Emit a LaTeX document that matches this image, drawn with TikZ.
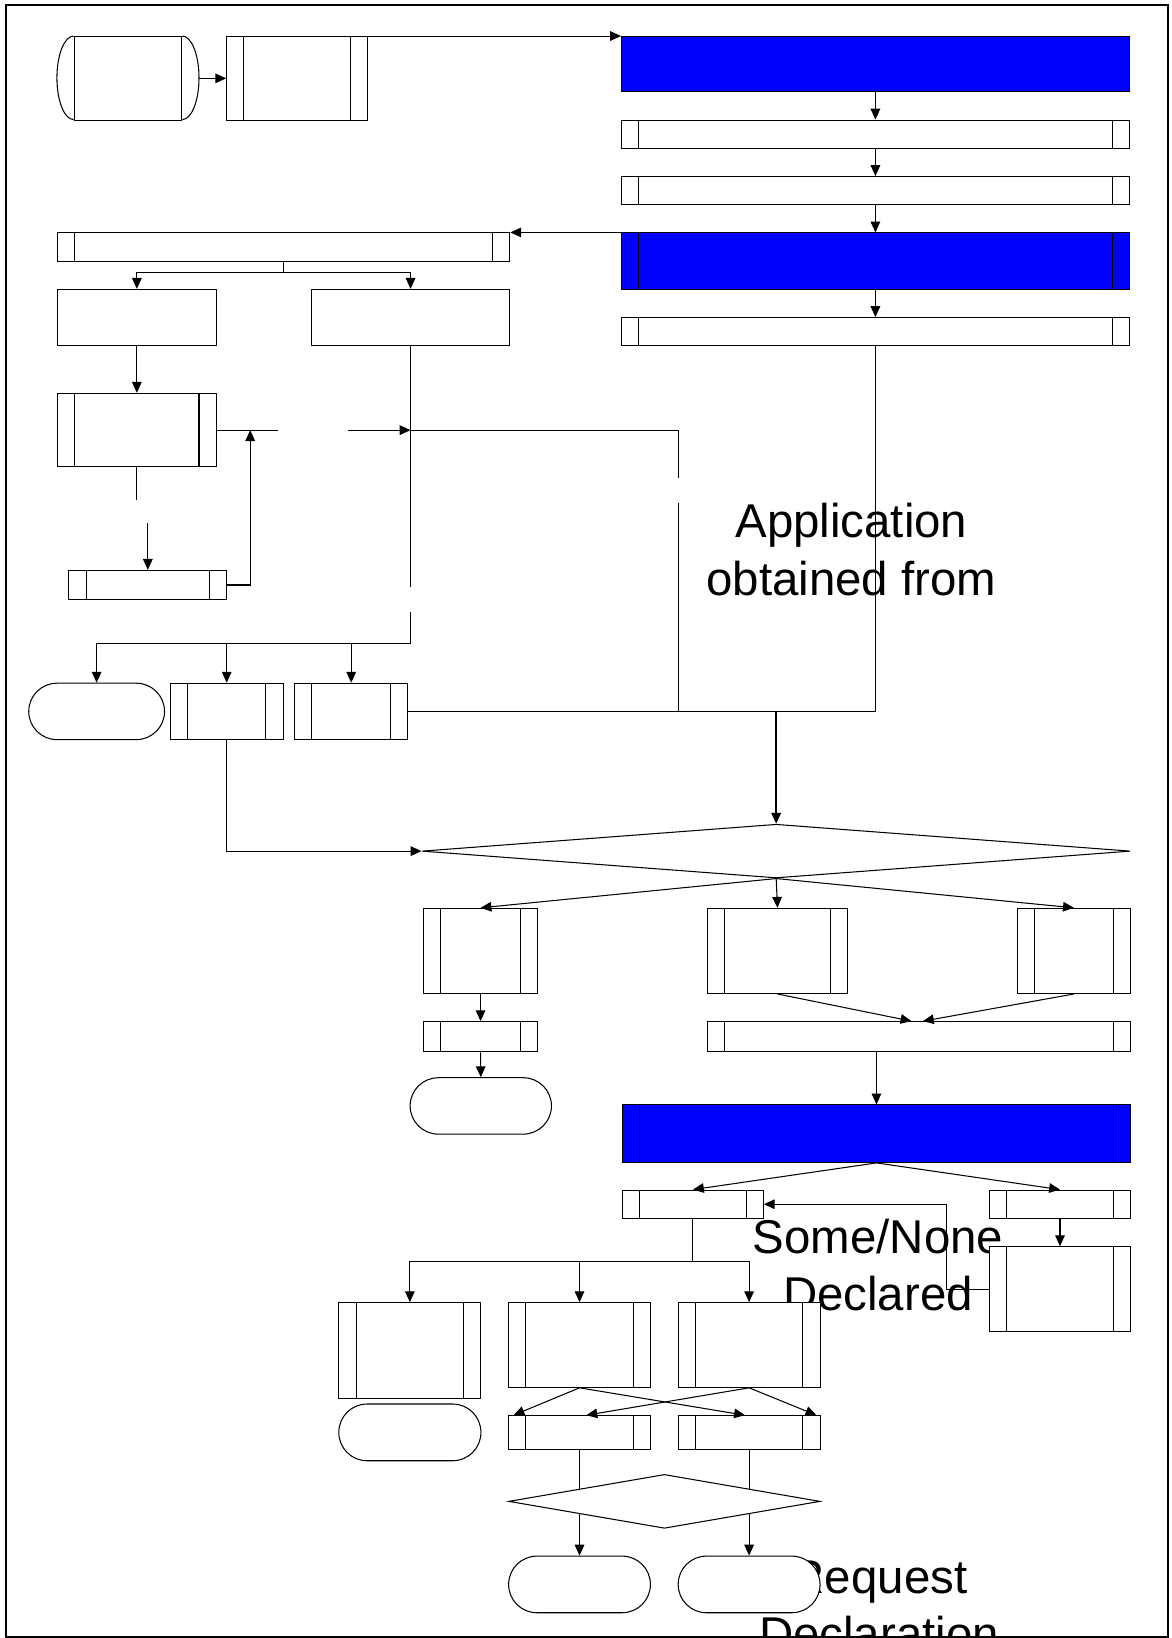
\documentclass[tikz,border=0pt]{standalone}
\usepackage{fontspec}
\setmainfont{Liberation Sans}
\usetikzlibrary{calc,arrows.meta,shapes.geometric}
\definecolor{procBlue}{RGB}{0,0,255}
\tikzset{
  conn/.style={draw=black,line width=0.5pt},
  flow/.style={conn,-{Triangle[length=5.2pt,width=4.6pt]}},
  pbox/.style={rectangle,draw=black,fill=white,line width=0.5pt,inner sep=0pt},
  proc/.style={pbox,path picture={
    \draw[line width=0.5pt] ([xshift=8.25pt]path picture bounding box.north west) -- ([xshift=8.25pt]path picture bounding box.south west);
    \draw[line width=0.5pt] ([xshift=-8.25pt]path picture bounding box.north east) -- ([xshift=-8.25pt]path picture bounding box.south east);}},
  term/.style={pbox,rounded corners=13.5pt},
  decide/.style={diamond,draw=black,fill=white,line width=0.5pt,inner sep=0pt},
  sz/.style 2 args={minimum width=#1,minimum height=#2},
  lbl/.style={font=\fontsize{22.7}{27.3}\selectfont,align=center,inner sep=0pt,anchor=base}
}
\begin{document}
\begin{tikzpicture}[x=0.5pt,y=-0.5pt]
\useasboundingbox (0,0) rectangle (1121,1568);
\clip (0,0) rectangle (1121,1568);
\draw[line width=0.8pt] (5.5,4.5) rectangle (1118,1567);

\node[lbl] (txtApp) at (815,569.6) {Application\\obtained from};
\node[lbl] (txtSome) at (840.5,1254.7) {Some/None\\Declared};
\node[lbl] (txtReq) at (841.5,1580) {Request\\Declaration};

\node[pbox,sz={51.5pt}{40pt}] (disk) at (122.5,75) {};
\draw[conn] (disk.north west) arc[start angle=90,end angle=270,x radius=8pt,y radius=20pt];
\draw[conn] (disk.north east) arc[start angle=90,end angle=-90,x radius=8pt,y radius=20pt];
\node[proc,sz={67.5pt}{40pt}] (A1) at (284.5,75) {};
\node[pbox,fill=procBlue,sz={243pt}{26.5pt}] (Blue1) at (838,61.5) {};
\node[proc,sz={243pt}{13.5pt}] (R2) at (838,128.5) {};
\node[proc,sz={243pt}{13.5pt}] (R3) at (838,182.5) {};
\node[proc,fill=procBlue,sz={243pt}{27pt}] (Blue2) at (838,250) {};
\node[proc,sz={243pt}{13.5pt}] (R5) at (838,317.5) {};

\node[proc,sz={216.5pt}{13.5pt}] (L1) at (271.5,236.5) {};
\node[pbox,sz={76pt}{27pt}] (L2a) at (131,304) {};
\node[pbox,sz={94.5pt}{27pt}] (L2b) at (393,304) {};
\node[proc,sz={76pt}{35.25pt}] (L3) at (131,411.75) {};
\node[proc,sz={75.5pt}{14pt}] (L4) at (141.5,560) {};
\node[term,sz={65pt}{27pt}] (T1) at (92.5,681) {};
\node[proc,sz={54pt}{27pt}] (P1) at (217,681) {};
\node[proc,sz={54.2pt}{27pt}] (P2) at (336.2,681) {};

\node[decide,sz={339pt}{25.75pt}] (D1) at (743,814.75) {};
\node[proc,sz={54.5pt}{40.75pt}] (B1) at (460,910.25) {};
\node[proc,sz={67.3pt}{40.75pt}] (B2) at (744.3,910.25) {};
\node[proc,sz={54pt}{40.75pt}] (B3) at (1028,910.25) {};
\node[proc,sz={54.5pt}{14.5pt}] (B1b) at (460,992.5) {};
\node[term,sz={67.65pt}{27pt}] (T2) at (460.25,1058.65) {};
\node[proc,sz={202.5pt}{14.5pt}] (B4) at (879.5,992.5) {};
\node[proc,fill=procBlue,sz={243pt}{27.5pt}] (Blue3) at (839,1085.2) {};

\node[proc,sz={67.35pt}{13.5pt}] (C1) at (663.35,1152.75) {};
\node[proc,sz={67.3pt}{13.5pt}] (C2) at (1014.7,1152.75) {};
\node[proc,sz={67.3pt}{40.7pt}] (C3) at (1014.7,1234.1) {};
\node[proc,sz={68pt}{45.8pt}] (E1) at (392.35,1292.8) {};
\node[proc,sz={67.85pt}{40.5pt}] (E2) at (554.75,1287.5) {};
\node[proc,sz={67.9pt}{40.5pt}] (E3) at (717.1,1287.5) {};
\node[term,sz={68pt}{27.15pt}] (T3) at (392.35,1371.15) {};
\node[proc,sz={67.85pt}{16.1pt}] (F1) at (554.75,1371.3) {};
\node[proc,sz={67.9pt}{16.1pt}] (F2) at (717.1,1371.3) {};
\node[term,sz={67.85pt}{27.1pt}] (T4) at (554.75,1516.7) {};
\node[term,sz={67.9pt}{27.1pt}] (T5) at (717.1,1516.7) {};

\coordinate (apTop) at (649.5,411.75);
\coordinate (apBot) at (649.5,681);
\coordinate (fork) at (393,616);
\coordinate (merge) at (D1.north |- P2.east);

\draw[flow] ([xshift=8pt]disk.east) -- (A1.west);
\draw[flow] (A1.north east) -- (Blue1.north west);
\draw[flow] (Blue1.south) -- (R2.north);
\draw[flow] (R2.south) -- (R3.north);
\draw[flow] (R3.south) -- (Blue2.north);
\draw[flow] (Blue2.south) -- (R5.north);
\draw[flow] (Blue2.north west) -- (L1.north east);
\draw[conn] (L1.south) -- ++(0,10) coordinate (split);
\draw[flow] (split) -| (L2a.north);
\draw[flow] (split) -| (L2b.north);
\draw[flow] (L2a.south) -- (L3.north);
\draw[conn] (L3.east) -- ++(58.5,0);
\draw[flow] ($(L3.east)+(125.5,0)$) -- (L3.east -| L2b.south);
\draw[conn] (L3.south) -- ++(0,31);
\draw[flow] ([yshift=22.25pt]L4.north) -- (L4.north);
\draw[flow] (L4.east) -| ($(L3.east)+(32,0)$);
\draw[conn] (L3.east -| L2b.south) -- (apTop) -- ++(0,46);
\draw[conn] ($(apTop)+(0,69.5)$) -- (apBot) -- (merge);
\draw[conn] (L2b.south) -- ++(0,230.6);
\draw[conn] (fork) -- ++(0,-30);
\draw[flow] (fork) -| (T1.north);
\draw[flow] (fork) -| (P1.north);
\draw[flow] (fork) -| (P2.north);
\draw[conn] (R5.south) |- (merge);
\draw[conn] (P2.east) -- (merge);
\draw[flow,line width=0.8pt] (merge) -- (D1.north);
\draw[flow] (P1.south) |- (D1.west);

\draw[flow] (D1.south) -- (B1.north);
\draw[flow] (D1.south) -- (B2.north);
\draw[flow] (D1.south) -- (B3.north);
\draw[flow] (B1.south) -- (B1b.north);
\draw[flow] (B1b.south) -- (T2.north);
\draw[flow] (B2.south) -- ([xshift=-3.5pt]B4.north);
\draw[flow] (B3.south) -- ([xshift=2pt]B4.north);
\draw[flow] (B4.south -| Blue3.north) -- (Blue3.north);
\draw[flow] (Blue3.south) -- (C1.north);
\draw[flow] (Blue3.south) -- (C2.north);
\draw[flow] (C2.south) -- (C3.north);
\draw[flow] (C3.west) -- ++(-41,0) |- (C1.east);
\draw[conn] (C1.south) -- ++(0,40.6) coordinate (fork2);
\draw[flow] (fork2) -| (E1.north);
\draw[flow] (fork2) -| (E2.north);
\draw[flow] (fork2) -| (E3.north);
\draw[flow] (E2.south) -- ([xshift=2.6pt]F1.north west);
\draw[flow] (E2.south) -- ([xshift=-2pt]F2.north);
\draw[flow] (E3.south) -- ([xshift=3.3pt]F1.north);
\draw[flow] (E3.south) -- ([xshift=-2pt]F2.north east);
\draw[flow] (F1.south) -- (T4.north);
\draw[flow] (F2.south) -- (T5.north);
\node[decide,sz={149pt}{25.8pt}] (D2) at (636,1437.2) {};
\end{tikzpicture}
\end{document}
